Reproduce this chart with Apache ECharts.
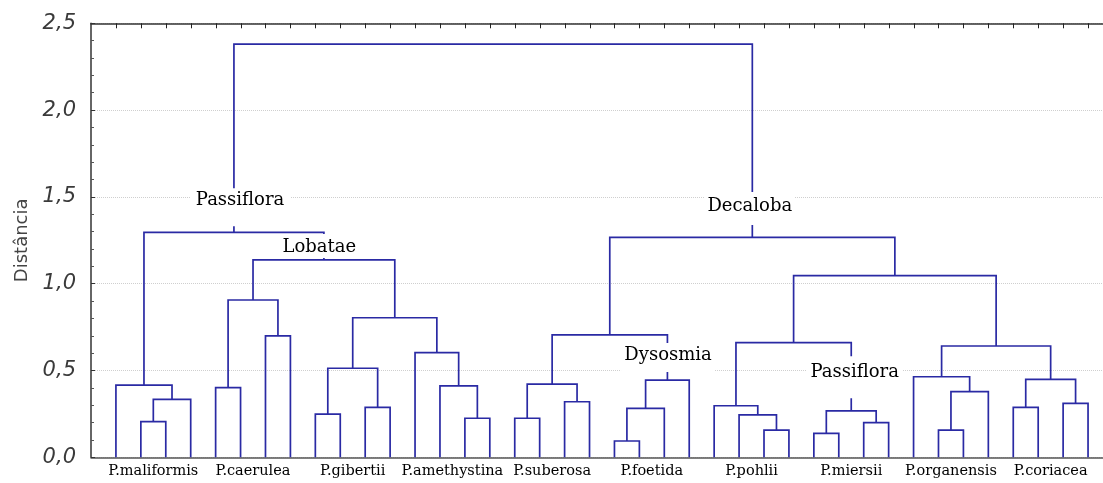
<!DOCTYPE html>
<html>
<head>
<meta charset="utf-8">
<script src="https://cdn.jsdelivr.net/npm/echarts@6.0.0/dist/echarts.min.js"></script>
<style>
html,body{margin:0;padding:0;background:#fff;}
#chart{width:1103px;height:483px;}
</style>
</head>
<body>
<div id="chart"></div>
<script>
// ---- data ----
const leafCount = 40;
const groupLabels = ['P.maliformis','P.caerulea','P.gibertii','P.amethystina','P.suberosa',
                     'P.foetida','P.pohlii','P.miersii','P.organensis','P.coriacea'];
const leavesPerGroup = 4;
const yTickValues = [0, 0.5, 1.0, 1.5, 2.0, 2.5];
// merges: [left, right, height]; positive = leaf number (1..40), negative = earlier merge (1-based)
const merges = [
  [2, 3, 0.205],     // 1
  [-1, 4, 0.334],    // 2
  [1, -2, 0.416],    // 3
  [5, 6, 0.401],     // 4
  [7, 8, 0.70],      // 5
  [-4, -5, 0.906],   // 6
  [9, 10, 0.249],    // 7
  [11, 12, 0.288],   // 8
  [-7, -8, 0.513],   // 9
  [15, 16, 0.225],   // 10
  [14, -10, 0.411],  // 11
  [13, -11, 0.603],  // 12
  [-9, -12, 0.804],  // 13
  [-6, -13, 1.137],  // 14 Lobatae
  [-3, -14, 1.296],  // 15 Passiflora
  [17, 18, 0.225],   // 16
  [19, 20, 0.32],    // 17
  [-16, -17, 0.422], // 18
  [21, 22, 0.094],   // 19
  [-19, 23, 0.282],  // 20
  [-20, 24, 0.445],  // 21
  [-18, -21, 0.705], // 22 Dysosmia
  [27, 28, 0.157],   // 23
  [26, -23, 0.244],  // 24
  [25, -24, 0.297],  // 25
  [29, 30, 0.138],   // 26
  [31, 32, 0.20],    // 27
  [-26, -27, 0.268], // 28
  [-25, -28, 0.66],  // 29 Passiflora
  [34, 35, 0.157],   // 30
  [-30, 36, 0.378],  // 31
  [33, -31, 0.464],  // 32
  [37, 38, 0.288],   // 33
  [39, 40, 0.311],   // 34
  [-33, -34, 0.449], // 35
  [-32, -35, 0.641], // 36
  [-29, -36, 1.046], // 37
  [-22, -37, 1.267], // 38 Decaloba
  [-15, -38, 2.38]   // 39 root
];
const cladeNames = ['Passiflora', 'Lobatae', 'Decaloba', 'Dysosmia', 'Passiflora'];
const cladeX = [5.98, 9.16, 26.43, 23.15, 30.64];
const cladeY = [1.48, 1.208, 1.448, 0.59, 0.487];

// ---- build tree geometry from data ----
const nodePos = [];
function pos(ref) {
  if (ref > 0) return [ref, 0];
  return nodePos[-ref - 1];
}
const linkData = merges.map(function (m) {
  const a = pos(m[0]), b = pos(m[1]);
  nodePos.push([(a[0] + b[0]) / 2, m[2]]);
  return [a[0], a[1], b[0], b[1], m[2]];
});
const cladeData = cladeNames.map(function (n, i) { return [cladeX[i], cladeY[i], n]; });
// white masks around clade labels: [top, bottom, halfWidth]
const maskBox = [[12, 26, 50], [13.5, 10.5, 38], [14, 19, 45], [12, 17, 47], [16.5, 25.5, 48]];

const labelCenters = groupLabels.map(function (_, i) { return i * leavesPerGroup + (leavesPerGroup + 1) / 2; });
const leafTickData = [];
for (let i = 1; i <= leafCount; i++) leafTickData.push([i, yTickValues[yTickValues.length - 1]]);

const X_MAX = 40.6;
const lineColor = '#2a2aa4';

const chart = echarts.init(document.getElementById('chart'), null, {renderer: 'canvas'});
chart.setOption({
  animation: false,
  backgroundColor: '#fff',
  grid: {left: 91, right: 0, top: 23.3, bottom: 25.7, containLabel: false, outerBoundsMode: 'none'},
  xAxis: [{
    type: 'value', min: 0, max: X_MAX, position: 'bottom',
    axisLine: {show: true, onZero: false, lineStyle: {color: '#555', width: 1.5}},
    axisTick: {show: false},
    splitLine: {show: false},
    axisLabel: {
      show: true, customValues: labelCenters, margin: 6,
      color: '#000', fontFamily: 'DejaVu Serif', fontSize: 14.5,
      formatter: function (v) {
        const k = Math.round((v - (leavesPerGroup + 1) / 2) / leavesPerGroup);
        return groupLabels[k] || '';
      }
    }
  }, {
    type: 'value', min: 0, max: X_MAX, position: 'top',
    axisLine: {show: true, onZero: false, lineStyle: {color: '#333', width: 1.5}},
    axisTick: {show: false},
    axisLabel: {show: false},
    splitLine: {show: false}
  }],
  yAxis: {
    type: 'value', min: 0, max: 2.5, interval: 0.5,
    name: 'Distância', nameLocation: 'middle', nameGap: 60,
    nameTextStyle: {fontFamily: 'DejaVu Sans', fontSize: 18, color: '#444'},
    axisLine: {show: true, lineStyle: {color: '#333', width: 1.5}},
    axisTick: {show: true, inside: true, length: 4, lineStyle: {color: '#333'}},
    minorTick: {show: true, splitNumber: 5, length: 3, lineStyle: {color: '#555'}},
    splitLine: {show: true, lineStyle: {color: '#cfcfcf', type: 'dotted', width: 1}},
    axisLabel: {
      margin: 15, color: '#3a3a3a', fontFamily: 'DejaVu Sans', fontStyle: 'italic', fontSize: 21,
      formatter: function (v) { return v.toFixed(1).replace('.', ','); }
    }
  },
  series: [{
    type: 'custom',
    xAxisIndex: 1, yAxisIndex: 0,
    data: linkData,
    encode: {x: [0, 2], y: [1, 3, 4]},
    silent: true,
    z: 2,
    renderItem: function (params, api) {
      const p1 = api.coord([api.value(0), api.value(1)]);
      const p2 = api.coord([api.value(0), api.value(4)]);
      const p3 = api.coord([api.value(2), api.value(4)]);
      const p4 = api.coord([api.value(2), api.value(3)]);
      return {
        type: 'polyline',
        shape: {points: [p1, p2, p3, p4]},
        style: {stroke: lineColor, lineWidth: 1.7, fill: null}
      };
    }
  }, {
    // tick marks of the top axis at every leaf
    type: 'custom',
    xAxisIndex: 1, yAxisIndex: 0,
    data: leafTickData,
    encode: {x: 0, y: 1},
    silent: true,
    clip: false,
    z: 3,
    renderItem: function (params, api) {
      const p = api.coord([api.value(0), api.value(1)]);
      return {
        type: 'line',
        shape: {x1: Math.round(p[0]) + 0.5, y1: p[1], x2: Math.round(p[0]) + 0.5, y2: p[1] + 5},
        style: {stroke: '#222', lineWidth: 1}
      };
    }
  }, {
    type: 'custom',
    xAxisIndex: 0, yAxisIndex: 0,
    data: cladeData,
    encode: {x: 0, y: 1},
    silent: true,
    z: 5,
    renderItem: function (params, api) {
      const c = api.coord([api.value(0), api.value(1)]);
      const b = maskBox[params.dataIndex];
      return {
        type: 'group',
        children: [{
          type: 'rect',
          shape: {x: c[0] - b[2], y: c[1] - b[0], width: b[2] * 2, height: b[0] + b[1]},
          style: {fill: '#fff'}
        }, {
          type: 'text',
          x: c[0], y: c[1],
          style: {
            text: cladeData[params.dataIndex][2],
            fill: '#000', font: '18px "DejaVu Serif"',
            align: 'center', verticalAlign: 'middle'
          }
        }]
      };
    }
  }]
});
</script>
</body>
</html>
